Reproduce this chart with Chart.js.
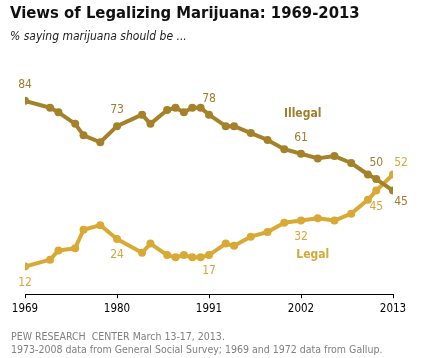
<!DOCTYPE html>
<html>
<head>
<meta charset="utf-8">
<script src="https://cdn.jsdelivr.net/npm/chart.js@4.4.1/dist/chart.umd.min.js"></script>
<style>
  body { margin: 0; background: #fff; }
  #wrap { position: relative; width: 421px; height: 358px; overflow: hidden;
          font-family: "DejaVu Sans Condensed", "DejaVu Sans", sans-serif; }
  #wrap canvas { position: absolute; left: 0; top: 0; }
  .title { position: absolute; left: 10px; top: 3px; font-size: 16.5px; line-height: 20px;
           font-weight: bold; color: #111; white-space: nowrap; }
  .sub { position: absolute; left: 10px; top: 29px; font-size: 12px; line-height: 14px;
         font-style: italic; color: #222; white-space: nowrap; }
  .note { position: absolute; left: 11px; top: 330px; font-size: 10.5px; line-height: 12.5px;
          color: #808080; white-space: nowrap; }
</style>
</head>
<body>
<div id="wrap">
  <canvas id="canvas" width="421" height="358"></canvas>
  <div class="title">Views of Legalizing Marijuana: 1969-2013</div>
  <div class="sub">% saying marijuana should be ...</div>
  <div class="note">PEW RESEARCH&nbsp; CENTER March 13-17, 2013.<br>1973-2008 data from General Social Survey; 1969 and 1972 data from Gallup.</div>
</div>
<script>
var YEARS = [1969, 1972, 1973, 1975, 1976, 1978, 1980, 1983, 1984, 1986, 1987, 1988, 1989, 1990,
             1991, 1993, 1994, 1996, 1998, 2000, 2002, 2004, 2006, 2008, 2010, 2011, 2013];
var ILLEGAL = [84, 81, 79, 74, 69, 66, 73, 78, 74, 80, 81, 79, 81, 81,
               78, 73, 73, 70, 67, 63, 61, 59, 60, 57, 52, 50, 45];
var LEGAL = [12, 15, 19, 20, 28, 30, 24, 18, 22, 17, 16, 17, 16, 16,
             17, 22, 21, 25, 27, 31, 32, 33, 32, 35, 41, 45, 52];
var X_TICKS = [1969, 1980, 1991, 2002, 2013];
var LABELED_YEARS = [1969, 1980, 1991, 2002, 2011, 2013];

var FONT = '"DejaVu Sans Condensed", "DejaVu Sans", sans-serif';
var DARK = '#a5822a';
var LIGHT = '#d8a935';

function points(vals) {
  return YEARS.map(function(y, i) { return { x: y, y: vals[i] }; });
}

// value labels + series names, drawn after the lines
var labelPlugin = {
  id: 'labels',
  afterDatasetsDraw: function(chart) {
    var ctx = chart.ctx;
    ctx.save();
    ctx.textAlign = 'center';
    ctx.textBaseline = 'middle';
    chart.data.datasets.forEach(function(ds, di) {
      var meta = chart.getDatasetMeta(di);
      ctx.fillStyle = ds.labelColor;
      ctx.font = '12px ' + FONT;
      LABELED_YEARS.forEach(function(yr) {
        var i = YEARS.indexOf(yr);
        var pt = meta.data[i];
        var last = i === YEARS.length - 1;
        var dx = last ? 8 : 0;
        var dy = last ? ds.lastDy : ds.dy;
        ctx.fillText(String(ds.data[i].y), pt.x + dx, pt.y + dy);
      });
      ctx.font = 'bold 12px ' + FONT;
      ctx.fillText(ds.label, chart.scales.x.getPixelForValue(ds.nameAt[0]),
                   chart.scales.y.getPixelForValue(ds.nameAt[1]));
    });
    ctx.restore();
  }
};

new Chart(document.getElementById('canvas').getContext('2d'), {
  type: 'line',
  data: {
    datasets: [
      {
        label: 'Illegal',
        data: points(ILLEGAL),
        borderColor: DARK,
        backgroundColor: DARK,
        labelColor: '#a07d2c',
        dy: -16, lastDy: 11,
        nameAt: [2002.2, 78.3]
      },
      {
        label: 'Legal',
        data: points(LEGAL),
        borderColor: LIGHT,
        backgroundColor: LIGHT,
        labelColor: '#d6a73a',
        dy: 16, lastDy: -12,
        nameAt: [2003.4, 16.9]
      }
    ]
  },
  options: {
    responsive: false,
    animation: false,
    devicePixelRatio: 1,
    layout: { padding: { left: 25, right: 28, top: 64, bottom: 38 } },
    elements: {
      line: { borderWidth: 4, tension: 0, borderJoinStyle: 'round', borderCapStyle: 'round' },
      point: { radius: 4, borderWidth: 0, hoverRadius: 4 }
    },
    plugins: { legend: { display: false }, tooltip: { enabled: false } },
    scales: {
      x: {
        type: 'linear',
        min: 1969,
        max: 2013,
        afterBuildTicks: function(scale) {
          scale.ticks = X_TICKS.map(function(v) { return { value: v }; });
        },
        grid: { drawOnChartArea: false, drawTicks: true, tickLength: 4, color: '#000', lineWidth: 1 },
        border: { display: true, color: '#000', width: 1 },
        ticks: {
          color: '#000',
          font: { family: FONT, size: 11.5 },
          padding: 4,
          maxRotation: 0,
          autoSkip: false,
          callback: function(v) { return String(v); }
        }
      },
      y: { display: false, min: 0, max: 100 }
    }
  },
  plugins: [labelPlugin]
});
</script>
</body>
</html>
